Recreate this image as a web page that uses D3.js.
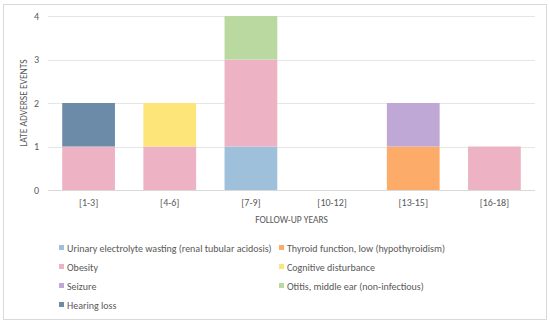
<!DOCTYPE html>
<html>
<head>
<meta charset="utf-8">
<script src="https://cdn.jsdelivr.net/npm/d3@7"></script>
<style>
  body { margin: 0; background: #fff; }
  svg text { font-family: Carlito, Calibri, "Liberation Sans", sans-serif; fill: #595959; }
</style>
</head>
<body>
<svg id="chart" width="550" height="323"></svg>
<script>
// catégories (années de suivi)
var categories = ["[1-3]", "[4-6]", "[7-9]", "[10-12]", "[13-15]", "[16-18]"];
// séries, dans l'ordre d'empilement (du bas vers le haut)
var seriesNames = [
  "Urinary electrolyte wasting (renal tubular acidosis)",
  "Thyroid function, low (hypothyroidism)",
  "Obesity",
  "Cognitive disturbance",
  "Seizure",
  "Otitis, middle ear (non-infectious)",
  "Hearing loss"
];
var urinary   = [0, 0, 1, 0, 0, 0];
var thyroid   = [0, 0, 0, 0, 1, 0];
var obesity   = [1, 1, 2, 0, 0, 1];
var cognitive = [0, 1, 0, 0, 0, 0];
var seizure   = [0, 0, 0, 0, 1, 0];
var otitis    = [0, 0, 1, 0, 0, 0];
var hearing   = [1, 0, 0, 0, 0, 0];
var yTicks = [0, 1, 2, 3, 4];
var colors = ["#9fc0da", "#fdab69", "#edb3c4", "#fde57a", "#bfa7d6", "#bad9a1", "#6b8ba9"];

var allSeries = [urinary, thyroid, obesity, cognitive, seizure, otitis, hearing];

// table pour d3.stack
var table = categories.map(function(c, i) {
  var row = {cat: c};
  seriesNames.forEach(function(s, j) { row[s] = allSeries[j][i]; });
  return row;
});

var svg = d3.select("#chart");

// cadre du graphique
svg.append("rect")
  .attr("x", 3.5).attr("y", 4.5).attr("width", 543).attr("height", 315)
  .attr("fill", "#fff").attr("stroke", "#d9d9d9");

var xScale = d3.scaleBand().domain(categories).range([48, 535]).paddingInner(0.35).paddingOuter(0.175);
var yScale = d3.scaleLinear().domain([0, 4]).range([190, 16]);

// grille horizontale
svg.append("g").selectAll("line")
  .data(yTicks.filter(function(d) { return d > 0; }))
  .enter().append("line")
  .attr("x1", 48).attr("x2", 535)
  .attr("y1", function(d) { return Math.round(yScale(d)) + 0.5; })
  .attr("y2", function(d) { return Math.round(yScale(d)) + 0.5; })
  .attr("stroke", "#e6e6e6");

// barres empilées
var stack = d3.stack().keys(seriesNames);
var layers = stack(table);

svg.append("g").selectAll("g")
  .data(layers)
  .enter().append("g")
  .attr("fill", function(d, i) { return colors[i]; })
  .selectAll("rect")
  .data(function(d) { return d; })
  .enter().append("rect")
  .attr("x", function(d) { return xScale(d.data.cat); })
  .attr("width", xScale.bandwidth())
  .attr("y", function(d) { return yScale(d[1]); })
  .attr("height", function(d) { return yScale(d[0]) - yScale(d[1]); });

// axe des abscisses
var xAxis = svg.append("g")
  .attr("transform", "translate(0,190)")
  .call(d3.axisBottom(xScale).tickSize(0).tickPadding(9));
xAxis.select(".domain").attr("stroke", "#d9d9d9").attr("d", "M48,0.5H535");
xAxis.selectAll("text").style("font-size", "10px").attr("fill", "#595959");

// axe des ordonnées
var yAxis = svg.append("g")
  .attr("transform", "translate(48,0)")
  .call(d3.axisLeft(yScale).tickValues(yTicks).tickFormat(d3.format("d")).tickSize(0).tickPadding(9));
yAxis.select(".domain").remove();
yAxis.selectAll("text").style("font-size", "10px").attr("fill", "#595959");

// titres des axes
svg.append("text")
  .attr("x", 291.5).attr("y", 223)
  .style("text-anchor", "middle").style("font-size", "9.5px")
  .text("FOLLOW-UP YEARS");

svg.append("text")
  .attr("transform", "translate(27,103) rotate(-90)")
  .style("text-anchor", "middle").style("font-size", "9.5px")
  .text("LATE ADVERSE EVENTS");

// légende sur deux colonnes
var legendX = [59, 279];
var legendY = [248, 267, 286, 305];
var legend = svg.append("g").selectAll("g")
  .data(seriesNames)
  .enter().append("g")
  .attr("transform", function(d, i) {
    return "translate(" + legendX[i % 2] + "," + legendY[Math.floor(i / 2)] + ")";
  });
legend.append("rect")
  .attr("x", 0).attr("y", -3).attr("width", 5).attr("height", 5)
  .attr("fill", function(d, i) { return colors[i]; });
legend.append("text")
  .attr("x", 8).attr("y", 3.5)
  .style("font-size", "10px")
  .text(function(d) { return d; });
</script>
</body>
</html>
